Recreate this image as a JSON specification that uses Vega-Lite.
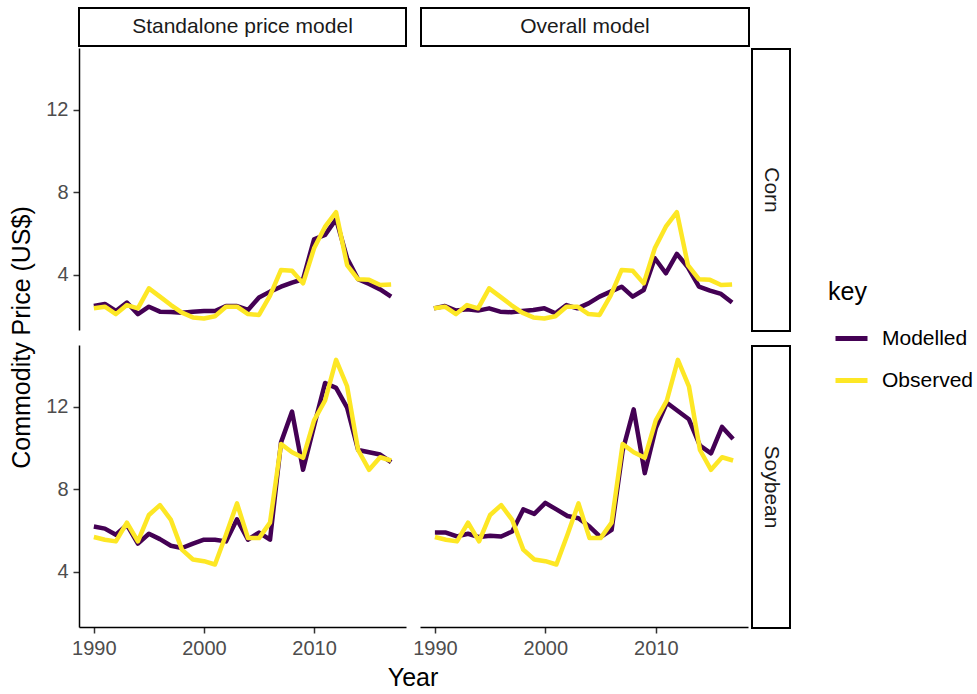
{
  "$schema": "https://vega.github.io/schema/vega-lite/v6.json",
  "padding": {"left": 5, "top": 7, "right": 0, "bottom": 0},
  "config": {
    "font": "Liberation Sans",
    "view": {"stroke": null},
    "axis": {"domainColor": "black", "domainWidth": 1.5, "tickColor": "#333333", "tickWidth": 1.5, "tickSize": 6, "labelFontSize": 20, "labelColor": "#4D4D4D", "labelPadding": 5, "grid": false, "title": null},
    "legend": {"orient": "none", "legendX": 823, "legendY": 272, "titleFontSize": 25, "titleFontWeight": "normal", "titleColor": "black", "titlePadding": 15, "labelFontSize": 21, "labelColor": "black", "symbolType": "stroke", "symbolSize": 1024, "symbolStrokeWidth": 5, "symbolOffset": 5, "labelOffset": 12, "rowPadding": 13}
  },
  "datasets": {
    "corn_standalone": [
      {"year":1990,"Modelled":2.49,"Observed":2.38},{"year":1991,"Modelled":2.59,"Observed":2.46},{"year":1992,"Modelled":2.25,"Observed":2.10},{"year":1993,"Modelled":2.66,"Observed":2.54},{"year":1994,"Modelled":2.10,"Observed":2.38},{"year":1995,"Modelled":2.46,"Observed":3.35},{"year":1996,"Modelled":2.22,"Observed":2.95},{"year":1997,"Modelled":2.20,"Observed":2.54},{"year":1998,"Modelled":2.17,"Observed":2.17},{"year":1999,"Modelled":2.22,"Observed":1.94},{"year":2000,"Modelled":2.25,"Observed":1.89},{"year":2001,"Modelled":2.25,"Observed":2.00},{"year":2002,"Modelled":2.49,"Observed":2.46},{"year":2003,"Modelled":2.49,"Observed":2.46},{"year":2004,"Modelled":2.30,"Observed":2.10},{"year":2005,"Modelled":2.91,"Observed":2.06},{"year":2006,"Modelled":3.19,"Observed":3.00},{"year":2007,"Modelled":3.43,"Observed":4.24},{"year":2008,"Modelled":3.63,"Observed":4.20},{"year":2009,"Modelled":3.79,"Observed":3.59},{"year":2010,"Modelled":5.73,"Observed":5.29},{"year":2011,"Modelled":5.94,"Observed":6.34},{"year":2012,"Modelled":6.70,"Observed":7.04},{"year":2013,"Modelled":4.81,"Observed":4.48},{"year":2014,"Modelled":3.79,"Observed":3.79},{"year":2015,"Modelled":3.56,"Observed":3.76},{"year":2016,"Modelled":3.30,"Observed":3.51},{"year":2017,"Modelled":2.95,"Observed":3.54}
    ],
    "corn_overall": [
      {"year":1990,"Modelled":2.38,"Observed":2.38},{"year":1991,"Modelled":2.49,"Observed":2.46},{"year":1992,"Modelled":2.27,"Observed":2.10},{"year":1993,"Modelled":2.33,"Observed":2.54},{"year":1994,"Modelled":2.27,"Observed":2.38},{"year":1995,"Modelled":2.38,"Observed":3.35},{"year":1996,"Modelled":2.22,"Observed":2.95},{"year":1997,"Modelled":2.19,"Observed":2.54},{"year":1998,"Modelled":2.25,"Observed":2.17},{"year":1999,"Modelled":2.30,"Observed":1.94},{"year":2000,"Modelled":2.38,"Observed":1.89},{"year":2001,"Modelled":2.14,"Observed":2.00},{"year":2002,"Modelled":2.54,"Observed":2.46},{"year":2003,"Modelled":2.38,"Observed":2.46},{"year":2004,"Modelled":2.62,"Observed":2.10},{"year":2005,"Modelled":2.95,"Observed":2.06},{"year":2006,"Modelled":3.19,"Observed":3.00},{"year":2007,"Modelled":3.43,"Observed":4.24},{"year":2008,"Modelled":2.95,"Observed":4.20},{"year":2009,"Modelled":3.27,"Observed":3.59},{"year":2010,"Modelled":4.81,"Observed":5.29},{"year":2011,"Modelled":4.08,"Observed":6.34},{"year":2012,"Modelled":5.02,"Observed":7.04},{"year":2013,"Modelled":4.37,"Observed":4.48},{"year":2014,"Modelled":3.43,"Observed":3.79},{"year":2015,"Modelled":3.24,"Observed":3.76},{"year":2016,"Modelled":3.08,"Observed":3.51},{"year":2017,"Modelled":2.66,"Observed":3.54}
    ],
    "soy_standalone": [
      {"year":1990,"Modelled":6.20,"Observed":5.69},{"year":1991,"Modelled":6.10,"Observed":5.56},{"year":1992,"Modelled":5.80,"Observed":5.48},{"year":1993,"Modelled":6.28,"Observed":6.39},{"year":1994,"Modelled":5.37,"Observed":5.48},{"year":1995,"Modelled":5.85,"Observed":6.76},{"year":1996,"Modelled":5.59,"Observed":7.24},{"year":1997,"Modelled":5.27,"Observed":6.52},{"year":1998,"Modelled":5.16,"Observed":5.08},{"year":1999,"Modelled":5.37,"Observed":4.60},{"year":2000,"Modelled":5.56,"Observed":4.52},{"year":2001,"Modelled":5.56,"Observed":4.36},{"year":2002,"Modelled":5.48,"Observed":5.80},{"year":2003,"Modelled":6.55,"Observed":7.32},{"year":2004,"Modelled":5.56,"Observed":5.64},{"year":2005,"Modelled":5.91,"Observed":5.64},{"year":2006,"Modelled":5.56,"Observed":6.39},{"year":2007,"Modelled":10.28,"Observed":10.20},{"year":2008,"Modelled":11.77,"Observed":9.80},{"year":2009,"Modelled":8.95,"Observed":9.53},{"year":2010,"Modelled":11.08,"Observed":11.35},{"year":2011,"Modelled":13.16,"Observed":12.31},{"year":2012,"Modelled":12.92,"Observed":14.28},{"year":2013,"Modelled":11.96,"Observed":13.00},{"year":2014,"Modelled":9.91,"Observed":9.91},{"year":2015,"Modelled":9.80,"Observed":8.95},{"year":2016,"Modelled":9.69,"Observed":9.56},{"year":2017,"Modelled":9.32,"Observed":9.40}
    ],
    "soy_overall": [
      {"year":1990,"Modelled":5.91,"Observed":5.69},{"year":1991,"Modelled":5.91,"Observed":5.56},{"year":1992,"Modelled":5.72,"Observed":5.48},{"year":1993,"Modelled":5.85,"Observed":6.39},{"year":1994,"Modelled":5.69,"Observed":5.48},{"year":1995,"Modelled":5.75,"Observed":6.76},{"year":1996,"Modelled":5.72,"Observed":7.24},{"year":1997,"Modelled":5.96,"Observed":6.52},{"year":1998,"Modelled":7.03,"Observed":5.08},{"year":1999,"Modelled":6.81,"Observed":4.60},{"year":2000,"Modelled":7.35,"Observed":4.52},{"year":2001,"Modelled":7.03,"Observed":4.36},{"year":2002,"Modelled":6.71,"Observed":5.80},{"year":2003,"Modelled":6.60,"Observed":7.32},{"year":2004,"Modelled":6.20,"Observed":5.64},{"year":2005,"Modelled":5.69,"Observed":5.64},{"year":2006,"Modelled":6.04,"Observed":6.39},{"year":2007,"Modelled":9.88,"Observed":10.20},{"year":2008,"Modelled":11.88,"Observed":9.80},{"year":2009,"Modelled":8.79,"Observed":9.53},{"year":2010,"Modelled":10.97,"Observed":11.35},{"year":2011,"Modelled":12.20,"Observed":12.31},{"year":2012,"Modelled":11.80,"Observed":14.28},{"year":2013,"Modelled":11.40,"Observed":13.00},{"year":2014,"Modelled":10.12,"Observed":9.91},{"year":2015,"Modelled":9.75,"Observed":8.95},{"year":2016,"Modelled":11.03,"Observed":9.56},{"year":2017,"Modelled":10.44,"Observed":9.40}
    ],
    "labels": [
      {"name":"y","label":"Commodity Price (US$)"},
      {"name":"x","label":"Year"},
      {"name":"c1","label":"Standalone price model"},
      {"name":"c2","label":"Overall model"},
      {"name":"r1","label":"Corn"},
      {"name":"r2","label":"Soybean"}
    ]
  },
  "spacing": 6,
  "hconcat": [
    {
      "width": 34, "height": 659,
      "data": {"name": "labels"},
      "transform": [{"filter": {"field": "name", "equal": "y"}}],
      "mark": {"type": "text", "angle": 270, "fontSize": 25, "color": "black"},
      "encoding": {"text": {"field": "label"}}
    },
    {
      "spacing": 7,
      "vconcat": [
        {
          "spacing": 1,
          "hconcat": [
            {
              "spacing": 1,
              "vconcat": [
                {
                  "spacing": 13,
                  "hconcat": [
                    {
                      "width": 327, "height": 38,
                      "view": {"stroke": "black", "strokeWidth": 2, "fill": "white"},
                      "data": {"name": "labels"},
                      "transform": [{"filter": {"field": "name", "equal": "c1"}}],
                      "mark": {"type": "text", "fontSize": 21, "color": "#1A1A1A"},
                      "encoding": {"text": {"field": "label"}}
                    },
                    {
                      "width": 328, "height": 38,
                      "view": {"stroke": "black", "strokeWidth": 2, "fill": "white"},
                      "data": {"name": "labels"},
                      "transform": [{"filter": {"field": "name", "equal": "c2"}}],
                      "mark": {"type": "text", "fontSize": 21, "color": "#1A1A1A"},
                      "encoding": {"text": {"field": "label"}}
                    }
                  ]
                },
                {
                  "spacing": 15,
                  "vconcat": [
                    {
                      "spacing": 13,
                      "hconcat": [
                        {
                          "width": 327, "height": 282,
                          "data": {"name": "corn_standalone"},
                          "transform": [{"fold": ["Modelled", "Observed"], "as": ["key", "price"]}],
                          "mark": {"type": "line", "strokeWidth": 4.5, "strokeJoin": "round"},
                          "encoding": {
                            "x": {"field": "year", "type": "quantitative", "scale": {"domain": [1988.65, 2018.35], "nice": false, "zero": false}, "axis": null},
                            "y": {"field": "price", "type": "quantitative", "scale": {"domain": [1.33, 15.0], "nice": false, "zero": false}, "axis": {"values": [4, 8, 12]}},
                            "color": {"field": "key", "type": "nominal", "title": "key", "scale": {"domain": ["Modelled", "Observed"], "range": ["#440154", "#FDE725"]}}
                          }
                        },
                        {
                          "width": 328, "height": 282,
                          "data": {"name": "corn_overall"},
                          "transform": [{"fold": ["Modelled", "Observed"], "as": ["key", "price"]}],
                          "mark": {"type": "line", "strokeWidth": 4.5, "strokeJoin": "round"},
                          "encoding": {
                            "x": {"field": "year", "type": "quantitative", "scale": {"domain": [1988.65, 2018.35], "nice": false, "zero": false}, "axis": null},
                            "y": {"field": "price", "type": "quantitative", "scale": {"domain": [1.33, 15.0], "nice": false, "zero": false}, "axis": null},
                            "color": {"field": "key", "type": "nominal", "title": "key", "scale": {"domain": ["Modelled", "Observed"], "range": ["#440154", "#FDE725"]}}
                          }
                        }
                      ]
                    },
                    {
                      "spacing": 6,
                      "hconcat": [
                        {
                          "width": 327, "height": 282,
                          "data": {"name": "soy_standalone"},
                          "transform": [{"fold": ["Modelled", "Observed"], "as": ["key", "price"]}],
                          "mark": {"type": "line", "strokeWidth": 4.5, "strokeJoin": "round"},
                          "encoding": {
                            "x": {"field": "year", "type": "quantitative", "scale": {"domain": [1988.65, 2018.35], "nice": false, "zero": false}, "axis": {"values": [1990, 2000, 2010], "format": "d"}},
                            "y": {"field": "price", "type": "quantitative", "scale": {"domain": [1.33, 15.0], "nice": false, "zero": false}, "axis": {"values": [4, 8, 12]}},
                            "color": {"field": "key", "type": "nominal", "title": "key", "scale": {"domain": ["Modelled", "Observed"], "range": ["#440154", "#FDE725"]}}
                          }
                        },
                        {
                          "width": 328, "height": 282,
                          "data": {"name": "soy_overall"},
                          "transform": [{"fold": ["Modelled", "Observed"], "as": ["key", "price"]}],
                          "mark": {"type": "line", "strokeWidth": 4.5, "strokeJoin": "round"},
                          "encoding": {
                            "x": {"field": "year", "type": "quantitative", "scale": {"domain": [1988.65, 2018.35], "nice": false, "zero": false}, "axis": {"values": [1990, 2000, 2010], "format": "d"}},
                            "y": {"field": "price", "type": "quantitative", "scale": {"domain": [1.33, 15.0], "nice": false, "zero": false}, "axis": null},
                            "color": {"field": "key", "type": "nominal", "title": "key", "scale": {"domain": ["Modelled", "Observed"], "range": ["#440154", "#FDE725"]}}
                          }
                        }
                      ]
                    }
                  ]
                }
              ]
            },
            {
              "spacing": 1,
              "vconcat": [
                {
                  "width": 38, "height": 39,
                  "data": {"name": "labels"},
                  "transform": [{"filter": {"field": "name", "equal": "none"}}],
                  "mark": {"type": "text"},
                  "encoding": {"text": {"field": "label"}}
                },
                {
                  "spacing": 13,
                  "vconcat": [
                    {
                      "width": 38, "height": 282,
                      "view": {"stroke": "black", "strokeWidth": 2, "fill": "white"},
                      "data": {"name": "labels"},
                      "transform": [{"filter": {"field": "name", "equal": "r1"}}],
                      "mark": {"type": "text", "angle": 90, "fontSize": 21, "color": "#1A1A1A"},
                      "encoding": {"text": {"field": "label"}}
                    },
                    {
                      "width": 38, "height": 282,
                      "view": {"stroke": "black", "strokeWidth": 2, "fill": "white"},
                      "data": {"name": "labels"},
                      "transform": [{"filter": {"field": "name", "equal": "r2"}}],
                      "mark": {"type": "text", "angle": 90, "fontSize": 21, "color": "#1A1A1A"},
                      "encoding": {"text": {"field": "label"}}
                    }
                  ]
                }
              ]
            }
          ]
        },
        {
          "width": 668, "height": 26,
          "data": {"name": "labels"},
          "transform": [{"filter": {"field": "name", "equal": "x"}}],
          "mark": {"type": "text", "fontSize": 25, "color": "black"},
          "encoding": {"text": {"field": "label"}}
        }
      ]
    }
  ]
}
